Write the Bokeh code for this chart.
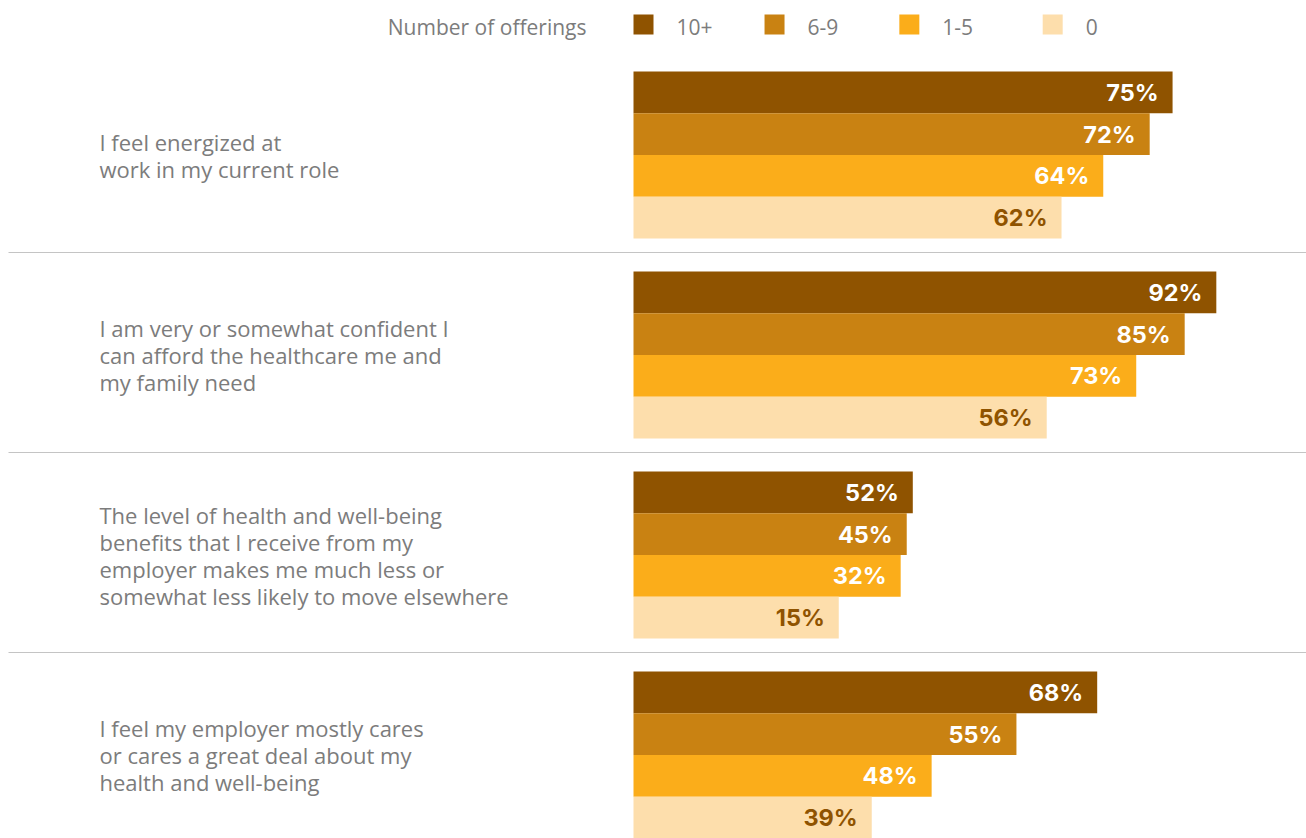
from bokeh.plotting import figure
from bokeh.models import Range1d, ColumnDataSource
from bokeh.core.properties import value
from bokeh.embed import file_html
from bokeh.resources import INLINE

# ---- data ----
statements = [
    "I feel energized at\nwork in my current role",
    "I am very or somewhat confident I\ncan afford the healthcare me and\nmy family need",
    "The level of health and well-being\nbenefits that I receive from my\nemployer makes me much less or\nsomewhat less likely to move elsewhere",
    "I feel my employer mostly cares\nor cares a great deal about my\nhealth and well-being",
]
series = ["10+", "6-9", "1-5", "0"]
colors = ["#8f5300", "#c98212", "#fbad1a", "#fddeac"]
label_colors = ["white", "white", "white", "#8f5300"]
# percentages shown on the bars (per statement, order: 10+, 6-9, 1-5, 0)
pct_10 = [75, 92, 52, 68]
pct_6_9 = [72, 85, 45, 55]
pct_1_5 = [64, 73, 32, 48]
pct_0 = [62, 56, 15, 39]
# drawn bar lengths (share of the plotting width)
len_10 = [80.1, 86.6, 41.5, 68.9]
len_6_9 = [76.7, 81.9, 40.6, 56.9]
len_1_5 = [69.8, 74.7, 39.7, 44.3]
len_0 = [63.6, 61.4, 30.5, 35.4]
legend_title = "Number of offerings"

pcts = [pct_10, pct_6_9, pct_1_5, pct_0]
lens = [len_10, len_6_9, len_1_5, len_0]

# ---- layout ----
W, H = 1306, 838
PX = 6.73            # pixels per x unit
X0 = -633 / PX       # left edge in x units
GROUP_TOP = 71
GROUP_PITCH = 200
BAR_H = 41.75
TEXT_FONT = "Open Sans"
NUM_FONT = "Inter"
GREY = "#7c7c7c"

p = figure(width=W, height=H, output_backend="svg", toolbar_location=None,
           x_range=Range1d(X0, 100), y_range=Range1d(H, 0),
           min_border=0, outline_line_color=None)
p.axis.visible = False
p.grid.visible = False

for j, s in enumerate(series):
    ys = [GROUP_TOP + i * GROUP_PITCH + (j + 0.5) * BAR_H for i in range(len(statements))]
    src = ColumnDataSource(dict(y=ys, right=lens[j],
                                lab=[f"{v}%" for v in pcts[j]],
                                lx=[l - 14 / PX for l in lens[j]]))
    p.hbar(y="y", left=0, right="right", height=BAR_H, source=src,
           fill_color=colors[j], line_color=None)
    p.text(x="lx", y="y", text="lab", source=src, text_align="right",
           text_baseline="middle", text_color=label_colors[j],
           text_font=value(NUM_FONT), text_font_style="bold",
           text_font_size="23.5px")

# statement labels
ys = [GROUP_TOP + i * GROUP_PITCH + 2 * BAR_H for i in range(len(statements))]
p.text(x=[X0 + 99 / PX] * len(statements), y=ys, text=statements,
       text_align="left", text_baseline="middle", text_color=GREY,
       text_font=value(TEXT_FONT), text_font_size="22px",
       text_line_height=0.9)

# separators
sep_y = [GROUP_TOP + i * GROUP_PITCH + 4 * BAR_H + 14 for i in range(len(statements) - 1)]
p.segment(x0=[X0 + 8 / PX] * len(sep_y), x1=[100] * len(sep_y), y0=sep_y, y1=sep_y,
          line_color="#c4c4c4", line_width=1)

# legend
leg_y = 25
leg_x = [0, 19.47, 39.5, 60.8]
p.rect(x=[x + 10 / PX for x in leg_x], y=[24] * 4, width=20 / PX, height=20,
       fill_color=colors, line_color=None)
p.text(x=[x + 43 / PX for x in leg_x], y=[leg_y + 1] * 4, text=series,
       text_align="left", text_baseline="middle", text_color=GREY,
       text_font=value(TEXT_FONT), text_font_size="21px")
p.text(x=[-47 / PX], y=[leg_y + 1], text=[legend_title], text_align="right",
       text_baseline="middle", text_color=GREY,
       text_font=value(TEXT_FONT), text_font_size="21px")

open("out.html", "w").write(file_html(p, INLINE))
